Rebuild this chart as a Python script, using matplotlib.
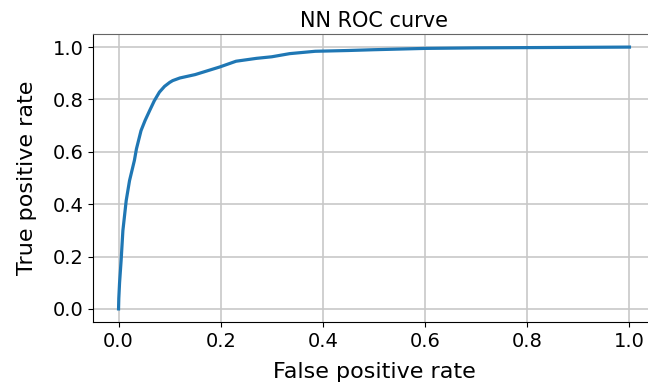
# NN ROC curve
import matplotlib
matplotlib.use("Agg")
import matplotlib.pyplot as plt

fpr = [0.0, 0.0005, 0.002, 0.005, 0.0085, 0.015, 0.0215, 0.031, 0.035, 0.044,
       0.052, 0.061, 0.070, 0.080, 0.090, 0.100, 0.106, 0.120, 0.150, 0.198,
       0.230, 0.270, 0.300, 0.335, 0.385, 0.450, 0.500, 0.600, 0.700, 0.800,
       0.900, 1.0]
tpr = [0.0, 0.04, 0.10, 0.184, 0.299, 0.414, 0.49, 0.567, 0.611, 0.681,
       0.72, 0.758, 0.795, 0.828, 0.850, 0.865, 0.872, 0.882, 0.895, 0.924,
       0.946, 0.957, 0.963, 0.975, 0.984, 0.987, 0.990, 0.995, 0.997, 0.998,
       0.999, 1.0]

fig = plt.figure(figsize=(6.48, 3.84), dpi=100)
ax = fig.add_axes([93 / 648, 1 - 322 / 384, 562 / 648, 288 / 384])
ax.plot(fpr, tpr, color="#1f77b4", lw=2.3)
ax.set_xlim(-0.05, 1.05)
ax.set_ylim(-0.05, 1.05)
ax.grid(True, color="#c8c8c8", lw=1.2)
ax.spines["right"].set_visible(False)
ax.spines["top"].set_color("#666666")
ax.tick_params(labelsize=14)
ax.set_xlabel("False positive rate", fontsize=16, labelpad=8)
ax.set_ylabel("True positive rate", fontsize=16, labelpad=11)
ax.set_title("NN ROC curve", fontsize=15, pad=5)
fig.savefig("out.png", dpi=100)
